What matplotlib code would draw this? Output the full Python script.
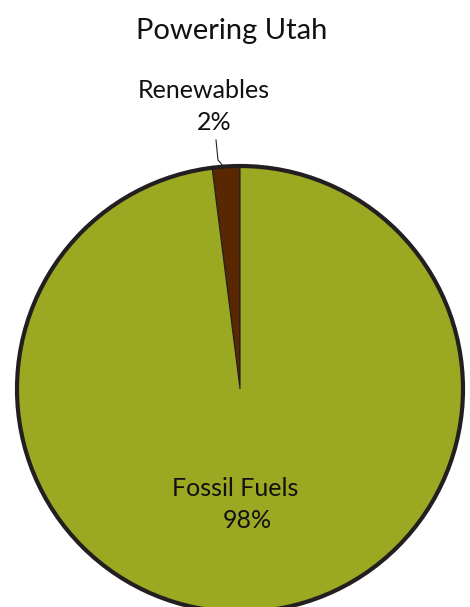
import matplotlib
matplotlib.use("Agg")
import matplotlib.pyplot as plt
from matplotlib.patches import Circle

labels = ["Renewables", "Fossil Fuels"]
values = [2, 98]
colors = ["#5A2800", "#9BA822"]
title = "Powering Utah"

W, H = 470, 607
fig = plt.figure(figsize=(W / 100, H / 100), dpi=100)
ax = fig.add_axes([0, 0, 1, 1])

def py(y):
    return H - y

cx, cy, r = 240, py(389), 223
wedges, _ = ax.pie(values, colors=colors, startangle=90, counterclock=True,
                   center=(cx, cy), radius=r, frame=True,
                   wedgeprops=dict(edgecolor="#231F20", linewidth=0.8))
ax.add_patch(Circle((cx, cy), r, fill=False, edgecolor="#231F20", linewidth=3.0))
ax.set_xlim(0, W)
ax.set_ylim(0, H)
ax.set_aspect("equal")
ax.axis("off")

font = "Lato"
tc = "#111111"
ax.text(232, py(31), title, ha="center", va="center", fontsize=21, family=font, color=tc)
ax.text(204, py(91), labels[0], ha="center", va="center", fontsize=18, family=font, color=tc)
ax.text(214, py(122), f"{values[0]}%", ha="center", va="center", fontsize=18, family=font, color=tc)
ax.text(235, py(488), labels[1], ha="center", va="center", fontsize=18, family=font, color=tc)
ax.text(247, py(520), f"{values[1]}%", ha="center", va="center", fontsize=18, family=font, color=tc)

# leader line
ax.plot([216, 218, 224], [py(140), py(160), py(167)], color="#231F20", lw=0.8)

fig.savefig("out.png", dpi=100)
